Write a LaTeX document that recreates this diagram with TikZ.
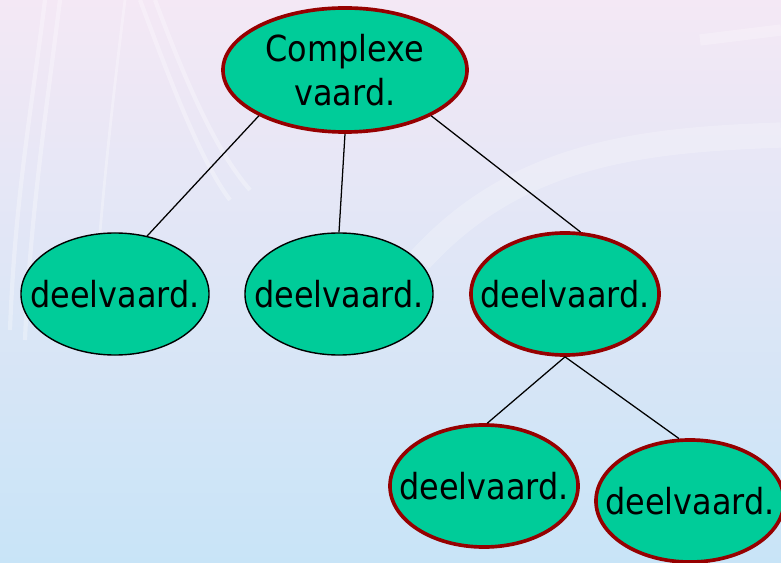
\documentclass[tikz,border=0pt]{standalone}
\usepackage{fontspec}
\setmainfont{DejaVu Sans}
\newfontfamily\smalfont[FakeStretch=0.89]{DejaVu Sans}
\usetikzlibrary{shapes.geometric}

\definecolor{vakgroen}{RGB}{0,204,153}
\definecolor{randrood}{RGB}{150,0,0}

\begin{document}
\begin{tikzpicture} [x=0.025cm, y=-0.025cm,
  vaard/.style={ellipse, fill=vakgroen, draw=black, line width=1pt,
    inner xsep=-1.8cm, inner ysep=0pt,
    minimum width=4.7cm, minimum height=3.05cm, align=center,
    font=\smalfont\fontsize{25.5}{31}\selectfont},
  rood/.style={draw=randrood, line width=2.6pt},
  streep/.style={white, line width=3pt, opacity=.3}]

% achtergrond
\shade[top color={rgb,255:red,244;green,232;blue,245}, middle color={rgb,255:red,228;green,226;blue,242},
  bottom color={rgb,255:red,200;green,228;blue,247}] (0,0) rectangle (781,563);
\useasboundingbox (0,0) rectangle (781,563);
\draw[streep] (45,0) .. controls (30,120) and (15,200) .. (10,330);
\draw[streep] (60,0) .. controls (45,120) and (30,220) .. (25,340);
\draw[streep, line width=2pt] (125,0) .. controls (110,120) and (100,220) .. (95,300);
\draw[streep] (140,0) .. controls (170,80) and (200,160) .. (230,200);
\draw[streep] (155,0) .. controls (185,80) and (215,150) .. (250,190);
\draw[white, line width=18pt, opacity=.22] (420,260) .. controls (520,150) and (650,140) .. (781,135);
\draw[white, line width=8pt, opacity=.25] (700,40) -- (781,30);

% knopen
\node[vaard, rood, minimum width=6.1cm, minimum height=3.1cm] (cv) at (345,70) {Complexe\\vaard.};
\node[vaard] (d1) at (115,294) {deelvaard.};
\node[vaard] (d2) at (339,294) {deelvaard.};
\node[vaard, rood] (d3) at (565,294) {deelvaard.};
\node[vaard, rood] (d4) at (484,486) {deelvaard.};
\node[vaard, rood] (d5) at (690,501) {deelvaard.};

% lijnen
\draw[line width=0.9pt] (cv.208) -- (d1.61);
\draw[line width=0.9pt] (cv.270) -- (d2.90);
\draw[line width=0.9pt] (cv.332) -- (d3.76);
\draw[line width=0.9pt] (d3.270) -- (d4.87);
\draw[line width=0.9pt] (d3.270) -- (d5.100);

\end{tikzpicture}
\end{document}
